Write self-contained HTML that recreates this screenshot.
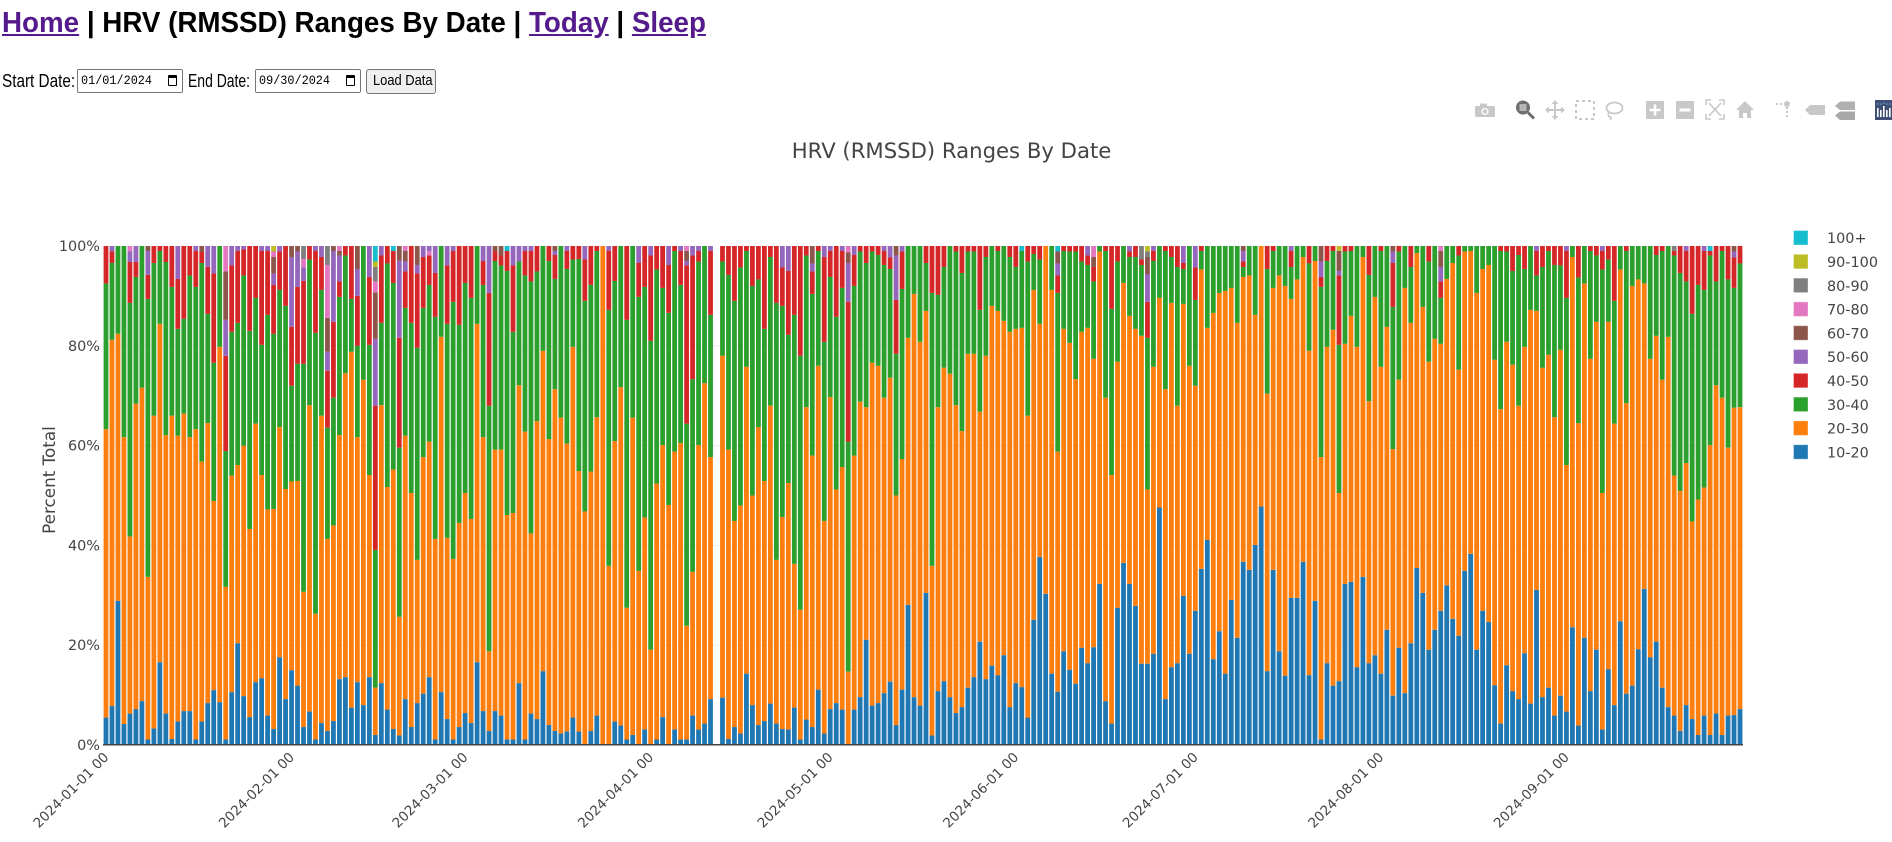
<!DOCTYPE html>
<html><head><meta charset="utf-8"><style>
html,body{margin:0;padding:0;background:#fff;}
body{width:1892px;height:842px;overflow:hidden;position:relative;font-family:"Liberation Sans",sans-serif;}
.abs{position:absolute;white-space:nowrap;transform-origin:0 0;}
.lnk{color:#551a8b;text-decoration:underline;}
.inp{position:absolute;box-sizing:border-box;border:1px solid #767676;border-radius:2px;height:24px;width:106px;top:69px;background:#fff;}
.dt{position:absolute;left:3px;top:3px;font:13px "Liberation Mono",monospace;line-height:16px;transform:scaleX(0.91);transform-origin:0 0;color:#000;}
.cal{position:absolute;top:5px;width:9px;height:11px;border:1.5px solid #000;border-top-width:3px;border-radius:1px;box-sizing:border-box;}
</style></head><body>
<svg id="chart" width="1892" height="842" style="position:absolute;left:0;top:0" xmlns="http://www.w3.org/2000/svg">
<g stroke="#eee" stroke-width="1.2">
<line x1="103" x2="1743" y1="645.2" y2="645.2"/><line x1="103" x2="1743" y1="545.4" y2="545.4"/>
<line x1="103" x2="1743" y1="445.6" y2="445.6"/><line x1="103" x2="1743" y1="345.8" y2="345.8"/>
</g>
<g id="bars"></g>
<line x1="103" x2="1743" y1="744.8" y2="744.8" stroke="#444" stroke-width="1.5"/>
<text x="951.5" y="158" text-anchor="middle" font-family="DejaVu Sans, Liberation Sans, sans-serif" font-size="21.2" fill="#444">HRV (RMSSD) Ranges By Date</text>
<g font-family="DejaVu Sans, Liberation Sans, sans-serif" font-size="14.4" fill="#444" text-anchor="end">
<text x="100" y="750">0%</text><text x="100" y="650.2">20%</text><text x="100" y="550.4">40%</text>
<text x="100" y="450.6">60%</text><text x="100" y="350.8">80%</text><text x="100" y="251">100%</text>
</g>
<text x="55" y="480" text-anchor="middle" transform="rotate(-90 55 480)" font-family="DejaVu Sans, Liberation Sans, sans-serif" font-size="16.8" fill="#444">Percent Total</text>
<g font-family="DejaVu Sans, Liberation Sans, sans-serif" font-size="13.5" fill="#444" text-anchor="end">
<text x="109.5" y="758" transform="rotate(-45 109.5 758)">2024-01-01 00</text>
<text x="295" y="758" transform="rotate(-45 295 758)">2024-02-01 00</text>
<text x="468.6" y="758" transform="rotate(-45 468.6 758)">2024-03-01 00</text>
<text x="654.2" y="758" transform="rotate(-45 654.2 758)">2024-04-01 00</text>
<text x="833.7" y="758" transform="rotate(-45 833.7 758)">2024-05-01 00</text>
<text x="1019.3" y="758" transform="rotate(-45 1019.3 758)">2024-06-01 00</text>
<text x="1198.8" y="758" transform="rotate(-45 1198.8 758)">2024-07-01 00</text>
<text x="1384.4" y="758" transform="rotate(-45 1384.4 758)">2024-08-01 00</text>
<text x="1569.9" y="758" transform="rotate(-45 1569.9 758)">2024-09-01 00</text>
</g>
<g id="legend" font-family="DejaVu Sans, Liberation Sans, sans-serif" font-size="14.4" fill="#444"></g>
<!-- modebar -->
<g fill="#c8c8c8" stroke="none">
<rect x="1475" y="106" width="20" height="11" rx="1.5"/><rect x="1480" y="103.5" width="7" height="3"/>
<circle cx="1485" cy="111.5" r="3.6" fill="#fff"/><circle cx="1485" cy="111.5" r="2.2"/>
<circle cx="1523" cy="107.5" r="7" fill="#6e6e6e"/><rect x="1519.5" y="104" width="7" height="7" fill="#b5b5b5"/>
<line x1="1528" y1="112.5" x2="1534" y2="118.5" stroke="#6e6e6e" stroke-width="3"/>
<g stroke="#c8c8c8" stroke-width="2"><line x1="1547" y1="110" x2="1563" y2="110"/><line x1="1555" y1="102" x2="1555" y2="118"/></g>
<polygon points="1545,110 1549,106.5 1549,113.5"/><polygon points="1565,110 1561,106.5 1561,113.5"/>
<polygon points="1555,100 1551.5,104 1558.5,104"/><polygon points="1555,120 1551.5,116 1558.5,116"/>
<rect x="1576" y="101" width="18" height="18" fill="none" stroke="#c8c8c8" stroke-width="2" stroke-dasharray="3 3"/>
<ellipse cx="1614.5" cy="108" rx="8" ry="5.5" fill="none" stroke="#c8c8c8" stroke-width="1.8"/>
<path d="M1609 112 q-2 4 1 5 q2 0 0 3" fill="none" stroke="#c8c8c8" stroke-width="1.6"/>
<rect x="1646" y="101" width="18" height="18"/><g stroke="#fff" stroke-width="2.5"><line x1="1649.5" y1="110" x2="1660.5" y2="110"/><line x1="1655" y1="104.5" x2="1655" y2="115.5"/></g>
<rect x="1676" y="101" width="18" height="18"/><line x1="1679.5" y1="110" x2="1690.5" y2="110" stroke="#fff" stroke-width="3"/>
<g fill="none" stroke="#c8c8c8" stroke-width="1.6"><path d="M1706 105v-5h5M1719 100h5v5M1724 114v5h-5M1711 119h-5v-5"/><path d="M1709 103l12 13M1721 103l-12 13"/></g>
<polygon points="1745,101 1736,110 1739,110 1739,118 1743,118 1743,113 1747,113 1747,118 1751,118 1751,110 1754,110"/>
<circle cx="1787" cy="104" r="3"/><g stroke="#c8c8c8" stroke-width="2" stroke-dasharray="2 2"><line x1="1776" y1="104" x2="1784" y2="104"/><line x1="1787" y1="107" x2="1787" y2="119"/></g>
<polygon points="1805,110 1810,105 1825,105 1825,115 1810,115"/>
<polygon points="1835,106 1840,101.5 1855,101.5 1855,110 1840,110" fill="#b0b0b0"/>
<polygon points="1835,115.5 1840,111.5 1855,111.5 1855,120 1840,120" fill="#a8a8a8"/>
<rect x="1875" y="100" width="17" height="20" fill="#3f4f75"/>
<g fill="#fff"><rect x="1877" y="108" width="1.6" height="9"/><rect x="1880" y="110" width="1.6" height="7"/><rect x="1883" y="106" width="1.6" height="11"/><rect x="1886" y="110" width="1.6" height="7"/><rect x="1889" y="108" width="1.6" height="9"/></g>
<g fill="#69c"><circle cx="1877.8" cy="104" r="0.9"/><circle cx="1880.8" cy="104" r="0.9"/><circle cx="1883.8" cy="103" r="0.9"/><circle cx="1886.8" cy="104" r="0.9"/><circle cx="1889.8" cy="104" r="0.9"/></g>
</g>
</svg>

<div class="abs" style="left:2px;top:3px;font:bold 29px 'Liberation Sans',sans-serif;line-height:40px;transform:scaleX(0.957);color:#000;"><span class="lnk">Home</span> | HRV (RMSSD) Ranges By Date | <span class="lnk">Today</span> | <span class="lnk">Sleep</span></div>

<div class="abs" style="left:2px;top:71px;font-size:18px;line-height:20px;transform:scaleX(0.85);color:#000;">Start Date:</div>
<div class="inp" style="left:77px;"><div class="dt">01/01/2024</div><div class="cal" style="left:90px;"></div></div>
<div class="abs" style="left:188px;top:71px;font-size:18px;line-height:20px;transform:scaleX(0.775);color:#000;">End Date:</div>
<div class="inp" style="left:255px;"><div class="dt">09/30/2024</div><div class="cal" style="left:90px;"></div></div>
<div style="position:absolute;left:366px;top:69px;width:70px;height:25px;box-sizing:border-box;border:1px solid #767676;border-radius:3px;background:#efefef;"></div>
<div class="abs" style="left:373px;top:72px;font-size:15px;line-height:18px;transform:scaleX(0.86);color:#000;">Load Data</div>

<script>
(function(){
var D="b5.5o63.3g92.5r100|b7.8o81.2g96.6r98.9p100|b28.9o82.4g100|b4.2o61.7g100|b6.3o41.8g88.6r96.8p98.9k100|b7.2o68.4g93.8r96.8p100|b8.8o71.6g100|b1.1o33.7g89.4r94.2p99n100|b3.3o66g96.6r100|b16.6o84.4g99r100|b6.3o62.1g96.8r100|b1.2o66g91.8r100|b4.7o62g83.4r93.4p100|b6.8o66.4g85.4r100|b6.8o61.7g94.1r100|b1.1o63.3g91.8r99p100|b4.7o56.8g96.6r98.8n100|b8.4o64.5g86.4r95.8p100|b11o48.9g76.6r94.5p100|b8.6o79.8g100|b1.1o31.7g58.9r78p85.2n94.9k100|b10.6o54g82.8r96.1p100|b20.4o56.1g84.6r99p100|b9.8o60g94.1r99.3p100|b5.6o43.3g83r100|b12.6o64.4g89.6r100|b13.4o54.1g80.2r99p100|b5.9o47.2g86.2r99p100|b3.2o47.3g82.4r92.2p94.5n97.8k98.9l100|b17.6o63.7g91.2r98.9p100|b9.2o51.3g88r100|b15o52.8g72r83.8p97.8n100|b11.9o52.9g76.4r91.8p98.9n100|b3.6o30.7g76.4r93p95.7k97.4y100|b6.7o68.1g97.3r100|b1.1o26.3g82.6r99p100|b4.4o66g91.2r97.8p100|b2.8o41.3g63.6r75p78.8n85.6k96.2y100|b4.8o44g69.6r84.8p99n100|b13.2o62.1g89.8r92.9p98.1n99k100|b13.6o74.5g98.1r100|b7.5o78.8g89.4r100|b12.6o61.7g80r90p95.4n100|b8o73.2g100|b13.6o54.1g80.2r93.8p100|b2o11.5g39.1r68p81.4n90.7k92.9y95.8l96.9c100|b12.4o68.1g84.6r98.1p100|b7.1o51.7g96.5r100|b3.2o55.2g92.6r99c100|b1.9o25.7g59.6r81.6p97.1n100|b9.2o62g87.6r94.9p96.9n99k100|b3.6o50.5g84.6r100|b8.4o37.1g79.6r94.5p96.2n100|b10.3o57.7g87.6r97.8p100|b13.6o60.8g92.2r98.1k99p100|b1.1o41.3g85.8r94.6p100|b10.6o81.8g100|b5.2o41.5g84.4r96.1p100|b1.1o37.3g88.8r99p100|b3.6o44.5g84.2r100|b6.4o50.5g92.6r100|b4.4o45.3g89.6r100|b16.6o84.4g100|b6.8o61.7g92.2r97p100|b2.8o18.8g68r90.6p100|b6.8o59.2g97r99n100|b5.9o59.2g96.1r98.1n100|b1.1o46.1g95r99c100|b1.1o46.5g82.8r96.1p100|b12.4o72.1g96.9p100"
+"|b1.1o62.8g94.1r99p100|b6.3o42.4g92.9r99p100|b5.2o64.9g94.9r100|b14.8o79g100|b4o61.3g97r100|b2.8o71.3g93.4r98.2p99n100|b2.3o65.6g100|b2.7o60.4g95.4r99p100|b5.5o79.8g97.3r100|b2.7o54.9g97.4r100|b0.1o46.8g89r97.3p100|b2.8o54.8g92.2r100|b5.9o65.7g99r100|o100|o35.9g87.2r99p100|b4.7o60.9g93r100|b3.9o71.7g100|b1.1o27.5g85.2r100|b2o65.6g100|o34.9g89.8r96.6p100|b3.1o45.6g91.8r100|o19.1g81r98.1p100|b1.1o52.4g95.3r100|b5.6o60.1g91.6r100|o48.1g86.6r96.2p100|b3.1o58.8g99r100|b1.1o60.5g92.2r99p100|b1.1o23.9g64.4r96.1p97n99k100|b5.9o34.7g73.3r98.1p100|b3.1o60.1g96.9r99p100|b4.3o72.5g100|b9.2o57.7g86.2r99p100|-|b9.5o78g96.9r100|b1.2o59.2g94.2r100|b3.6o44.9g89r100|b2.3o48g95.7r100|b14.3o75.8g99r100|b8o50g92r100|b4o63.7g93.3r100|b4.8o52.9g83.4r100|b8.3o68g97.8r100|b4.3o37.1g88.6r100|b3.2o45.7g88r95.7p100|b3.1o52.5g82.2r95p100|b7.5o36.3g86.2r100|b1.1o27.1g78r100|b5.1o67.7g98.1r100|b3.6o58g90.4r94.9p96.5n100|b11.1o76g99r100|b2.3o44.9g80.8r97.8p100|b7.2o69.7g93.8r99p100|b8.4o51.2g85.8r100|b7.1o55.7g91.6r99p100|o14.7g60.8r88.8p96.6n98.7k100|b7.1o58g92r98.2p100|b9.6o68.8g98.9r100|b21.1o67.7g96.6r100|b7.9o76.6g98.9r100|b8.4o76g98.2r100|b10.4o69.6g96.2r99p100|b12.7o73.6g95.4r97.7p100|b4o50g78.4r89.2p98.1n100|b11.1o57.3g91.4r98.9p100|b28.1o81.6g100|b9.6o90.4g100|b7.9o80.8g100|b30.5o87g96.6r100|b1.9o35.9g90.6r100|b10.8o67.7g90.2r100"
+"|b12.8o75.6g95.8r100|b9.6o74.4g100|b6.4o68.1g98.9r100|b7.6o62.9g94.6r100|b11.5o78.4g98.9r100|b13.6o78.4g98.9r100|b20.7o66.8g87.2r100|b13.2o78g97.8r100|b15.9o88g100|b14o87g99r100|b18o85g100|b7.6o82.8g97.8r100|b12.4o83.4g95.8r100|b11.6o83.6g99c100|b5.5o66g96.9r100|b25.1o91.2g98.4r100|b37.7o84.4g97.3r100|b30.3o100|b14.3o91.2g100|b10.7o58.8g90.6r94.1p96.5n98.9c100|b18.8o83.4g99r100|b15.1o80.6g98.9r100|b12.3o73.3g98.9r100|b19.5o82.8g96.9r100|b16.4o83.6g96.2r98.1p100|b19.6o77.4g92.9r95.8n97.8k100|b32.3o98.9g100|b8.8o69.6g99r100|b4.3o54.1g87.4r100|b27.5o76.8g96.9r100|b36.5o92.6g100|b32.3o86g97.8r98.9p100|b27.9o83.4g97.8r100|b16.3o82g96.2r97.3y100|b16.3o51.2g81.6r88.8p94.3n97.8y98.9l100|b18.3o75.8g97r99p100|b47.6o89.6g100|b9.2o71.3g99r100|b15.6o88.6g97.8r100|b16.4o68g95.8r100|b29.9o88.4g95.4r96.6p100|b18.3o76g100|b26.9o72g89.2r95.7p100|b35.3o95.3g99r100|b41.1o83.6g100|b17.2o86.6g100|b22.8o90.6g100|b14.3o91g100|b29.1o91.6g100|b21.5o84.6g100|b36.7o93.8g95.8r96.9p99n100|b35.1o94.1g100|b40.1o86.2g100|b47.8o100|b14.8o70.4g95.4r100|b35.1o91.6g99r100|b18.8o94.1g100|b13.9o92g100|b29.5o89.4g95.8r99p100|b29.5o93.3g100|b36.7o97.8g100|b14o79g96.5r100|b28.9o97g100|b1.1o57.7g91.8r93.8p96.9n100|b16.4o79.8g97r100|b11.9o83.2g99r100|b12.8o50.5g80.2r94.1p95n99l100|b32.3o80.4g98.9r100|b32.7o86g99r100|b15.6o79.8g100"
+"|b33.7o97.8g100|b16.4o68.9g94.2r100|b18o89.8g100|b14.3o75.8g99r100|b23.1o83.8g100|b9.9o59.3g87.8r96.6p98.9n100|b19.5o73.2g98.9r100|b10.4o91.6g100|b20.4o84.6g95.8r100|b35.5o98.6g100|b30.5o87.8g100|b19.1o76.8g96.9r100|b23.1o81.4g100|b26.9o80.4g89.6r92.9p95.8n99k100|b32o93.4g100|b25.3o96.6g100|b21.9o75.2g98.1r100|b34.9o98.9g100|b38.3o99g100|b19.1o90.6g100|b26.9o95.4g100|b24.7o96.2g100|b12o77.2g100|b4.3o67.3g99r100|b16o80.8g98.9r100|b10.8o76.2g95r100|b9.2o68g98.2r100|b18.4o79.8g95.4r100|b8.3o87.2g100|b31.1o87g94.1r99p100|b9.6o75.6g95.8r100|b11.5o78.2g99r100|b5.9o65.7g96.2r100|b9.9o79.2g96.1r100|b6.7o56.1g89.6r99p100|b23.6o97.8g100|b3.9o64.5g93.7r100|b21.5o92.5g100|b10.8o77.4g99r100|b19.1o84.8g98.1r100|b3.1o50.5g95.3r99p100|b15.2o84.8g97.3r100|b8o64.4g89r100|b24.8o95.3g100|b10.3o68.5g99r100|b11.9o92g100|b19.2o93.3g100|b31.3o92.5g100|b17.6o77.4g100|b20.7o82g98.2r100|b11.5o73.2g99r100|b7.6o81.8g100|b5.9o54g98.1r99y100|b2.8o50.9g94.6r100|b8o56.5g92.9r99p100|b5.2o44.8g86.4r100|b2o49.2g92.2r100|b5.9o51.6g91.2r99p100|b2o60.1g98.1r99c100|b6.3o72.1g92.9r100|b2o69.6g99r100|b5.9o59.6g93.3r100|b6o67.6g91.6r97.7p98.9n100|b7.2o67.7g96.5r100";
var C={b:'#1f77b4',o:'#ff7f0e',g:'#2ca02c',r:'#d62728',p:'#9467bd',n:'#8c564b',k:'#e377c2',y:'#7f7f7f',l:'#bcbd22',c:'#17becf'};
var bars=D.split("|"),N=274,X0=103,W=1640,step=W/N,Y0=745,H=499,s="";
for(var i=0;i<bars.length;i++){
  var d=bars[i],x=X0+i*step+step*0.1,w=step*0.8,prev=0,re=/([a-z])([\d.]+)/g,m;
  while((m=re.exec(d))!==null){
    var hi=parseFloat(m[2]);
    var y1=Y0-hi*H/100,y0=Y0-prev*H/100;
    s+='<rect x="'+x.toFixed(2)+'" y="'+y1.toFixed(2)+'" width="'+w.toFixed(2)+'" height="'+(y0-y1).toFixed(2)+'" fill="'+C[m[1]]+'"/>';
    prev=hi;
  }
}
document.getElementById("bars").innerHTML=s;
var L=[["c","100+"],["l","90-100"],["y","80-90"],["k","70-80"],["n","60-70"],["p","50-60"],["r","40-50"],["g","30-40"],["o","20-30"],["b","10-20"]],ls="";
for(var j=0;j<L.length;j++){var cy=238+23.8*j;
  ls+='<rect x="1793.5" y="'+(cy-7.5)+'" width="14.5" height="14.5" fill="'+C[L[j][0]]+'" stroke="#fff" stroke-opacity="0.35" stroke-width="1"/>';
  ls+='<text x="1827" y="'+(cy+5.2)+'">'+L[j][1]+'</text>';}
document.getElementById("legend").innerHTML=ls;
})();
</script>
</body></html>
